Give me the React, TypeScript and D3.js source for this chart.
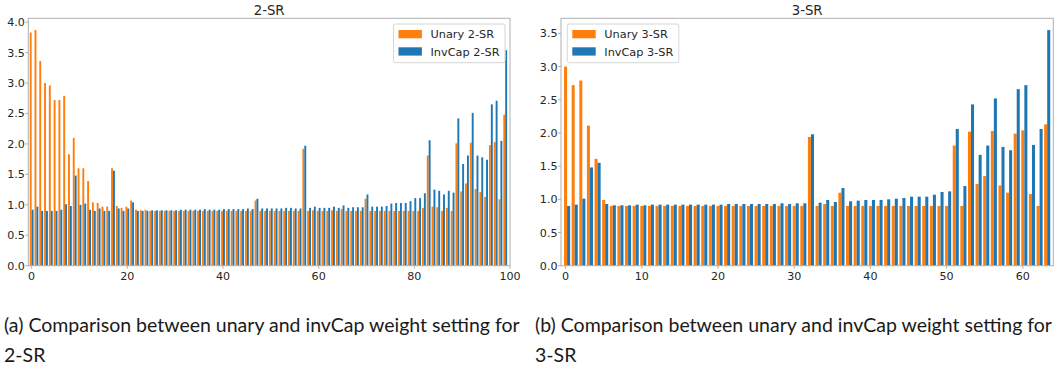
import React from "react";
import * as d3 from "d3";

// bar heights, one value per link index
const unary2 = [
  3.83, 3.87, 3.36, 3.0, 2.96, 2.72, 2.72, 2.79, 1.83, 2.1,
  1.6, 1.6, 1.39, 1.04, 1.03, 0.97, 0.97, 1.6, 0.98, 0.95,
  0.97, 1.07, 0.92, 0.91, 0.92, 0.9, 0.9, 0.9, 0.9, 0.9,
  0.9, 0.9, 0.9, 0.9, 0.9, 0.9, 0.9, 0.9, 0.9, 0.9,
  0.9, 0.9, 0.9, 0.9, 0.9, 0.9, 0.9, 1.07, 0.9, 0.9,
  0.9, 0.9, 0.9, 0.9, 0.9, 0.9, 0.9, 1.92, 0.9, 0.91,
  0.9, 0.9, 0.9, 0.91, 0.9, 0.93, 0.9, 0.9, 0.9, 0.9,
  1.1, 0.9, 0.9, 0.9, 0.9, 0.9, 0.9, 0.9, 0.9, 0.9,
  0.9, 0.9, 0.95, 1.81, 0.97, 0.96, 0.9, 0.95, 0.9, 2.01,
  1.22, 1.35, 2.02, 1.26, 1.21, 1.13, 1.98, 2.03, 1.09, 2.48,
];
const invcap2 = [
  0.92, 0.97, 0.9, 0.9, 0.9, 0.9, 0.92, 1.01, 0.98, 1.48,
  1.0, 1.02, 0.92, 0.9, 0.94, 0.9, 0.9, 1.56, 0.94, 0.9,
  0.94, 1.04, 0.9, 0.9, 0.9, 0.91, 0.91, 0.91, 0.91, 0.91,
  0.91, 0.92, 0.92, 0.92, 0.92, 0.92, 0.93, 0.92, 0.92, 0.92,
  0.93, 0.93, 0.93, 0.93, 0.93, 0.94, 0.93, 1.1, 0.94, 0.94,
  0.94, 0.94, 0.94, 0.95, 0.95, 0.94, 0.94, 1.97, 0.95, 0.97,
  0.95, 0.95, 0.95, 0.97, 0.95, 0.99, 0.95, 0.96, 0.96, 0.96,
  1.17, 0.97, 0.97, 0.97, 0.98, 1.02, 1.03, 1.03, 1.03, 1.06,
  1.11, 1.11, 1.19, 2.06, 1.25, 1.23, 1.17, 1.23, 1.2, 2.42,
  1.67, 1.81, 2.51, 1.81, 1.78, 1.74, 2.65, 2.71, 2.05, 3.54,
];
const unary3 = [
  3.0, 2.72, 2.79, 2.11, 1.61, 0.99, 0.9, 0.9, 0.9, 0.9,
  0.9, 0.9, 0.9, 0.9, 0.9, 0.9, 0.9, 0.9, 0.9, 0.9,
  0.9, 0.9, 0.9, 0.9, 0.9, 0.9, 0.9, 0.9, 0.9, 0.9,
  0.9, 0.9, 1.94, 0.9, 0.93, 0.9, 1.1, 0.9, 0.9, 0.9,
  0.9, 0.9, 0.9, 0.9, 0.9, 0.9, 0.9, 0.9, 0.9, 0.9,
  0.9, 1.81, 0.9, 2.02, 1.23, 1.35, 2.03, 1.21, 1.1, 1.99,
  2.04, 1.08, 0.9, 2.13,
];
const invcap3 = [
  0.9, 0.92, 1.01, 1.48, 1.55, 0.93, 0.91, 0.91, 0.91, 0.92,
  0.91, 0.92, 0.92, 0.92, 0.92, 0.92, 0.92, 0.92, 0.92, 0.92,
  0.92, 0.93, 0.93, 0.93, 0.93, 0.93, 0.93, 0.93, 0.94, 0.93,
  0.94, 0.94, 1.98, 0.95, 0.99, 0.96, 1.17, 0.97, 0.98, 0.99,
  0.99, 0.99, 1.0, 1.01, 1.02, 1.04, 1.04, 1.04, 1.07, 1.11,
  1.12, 2.06, 1.2, 2.43, 1.67, 1.81, 2.52, 1.79, 1.74, 2.66,
  2.72, 1.82, 2.06, 3.55,
];

const xTicks2 = [0, 20, 40, 60, 80, 100];
const xTicks3 = [0, 10, 20, 30, 40, 50, 60];
const yTicks2 = [0, 0.5, 1, 1.5, 2, 2.5, 3, 3.5, 4];
const yTicks3 = [0, 0.5, 1, 1.5, 2, 2.5, 3, 3.5];

const ORANGE = "#ff7f0e";
const BLUE = "#1f77b4";
const FONT = "DejaVu Sans, sans-serif";

type PanelProps = {
  title: string;
  unary: number[];
  invcap: number[];
  labels: [string, string];
  left: number;
  right: number;
  xDomain: [number, number];
  xTicks: number[];
  yTicks: number[];
  orangeOff: number; // where the orange bar starts, relative to the index
  legendLeft: boolean;
};

function Panel(p: PanelProps) {
  const top = 18.3;
  const bottom = 265.7;
  const bw = 0.4;
  const x = d3.scaleLinear().domain(p.xDomain).range([p.left, p.right]);
  const ymax = Math.max(d3.max(p.unary)!, d3.max(p.invcap)!) * 1.05;
  const y = d3.scaleLinear().domain([0, ymax]).range([bottom, top]);
  const bwPx = x(bw) - x(0);

  const lgW = 111.5;
  const lgX = p.legendLeft ? p.left + 6.3 : p.right - 5 - lgW;
  const lgY = 24;

  return (
    <g>
      <g>
        {p.unary.map((v, i) => (
          <rect key={"u" + i} x={x(i + p.orangeOff)} y={y(v)} width={bwPx} height={bottom - y(v)} fill={ORANGE} />
        ))}
        {p.invcap.map((v, i) => (
          <rect key={"c" + i} x={x(i + p.orangeOff + bw)} y={y(v)} width={bwPx} height={bottom - y(v)} fill={BLUE} />
        ))}
      </g>
      <rect x={p.left} y={top} width={p.right - p.left} height={bottom - top} fill="none" stroke="#b0b0b0" strokeWidth={1} />
      {p.xTicks.map((t) => (
        <g key={"xt" + t} transform={`translate(${x(t)},${bottom})`}>
          <line y2={3} stroke="#b0b0b0" />
          <text y={14} textAnchor="middle" fontSize={11.1} fontFamily={FONT} fill="#262626">{t}</text>
        </g>
      ))}
      {p.yTicks.map((t) => (
        <g key={"yt" + t} transform={`translate(${p.left},${y(t)})`}>
          <line x2={-3} stroke="#b0b0b0" />
          <text x={-3.5} dy="0.36em" textAnchor="end" fontSize={11.1} fontFamily={FONT} fill="#262626">{t.toFixed(1)}</text>
        </g>
      ))}
      <text x={(p.left + p.right) / 2} y={15} textAnchor="middle" fontSize={13.3} fontFamily={FONT} fill="#262626">{p.title}</text>
      <g transform={`translate(${lgX},${lgY})`}>
        <rect width={lgW} height={38.7} rx={2} fill="#fff" fillOpacity={0.8} stroke="#d6d6d6" />
        {[ORANGE, BLUE].map((c, k) => (
          <g key={c} transform={`translate(5,${6 + k * 17.3})`}>
            <rect width={23.4} height={8.3} fill={c} />
            <text x={32} y={8.3} fontSize={11.3} fontFamily={FONT} fill="#262626">{p.labels[k]}</text>
          </g>
        ))}
      </g>
    </g>
  );
}

export default function App() {
  const capFont = "Lato, sans-serif";
  return (
    <svg width={1059} height={370} style={{ position: "absolute", left: 0, top: 0, background: "#fff" }}>
      <Panel
        title="2-SR"
        unary={unary2}
        invcap={invcap2}
        labels={["Unary 2-SR", "InvCap 2-SR"]}
        left={28.3}
        right={510}
        xDomain={[-0.7, 100]}
        xTicks={xTicks2}
        yTicks={yTicks2}
        orangeOff={-0.4}
        legendLeft={false}
      />
      <Panel
        title="3-SR"
        unary={unary3}
        invcap={invcap3}
        labels={["Unary 3-SR", "InvCap 3-SR"]}
        left={561}
        right={1053.3}
        xDomain={[-0.6, 64]}
        xTicks={xTicks3}
        yTicks={yTicks3}
        orangeOff={-0.2}
        legendLeft={true}
      />
      <g fontFamily={capFont} fontSize={19.5} fill="#1a1a1a">
        <text x={4} y={332}>(a) Comparison between unary and invCap weight setting for</text>
        <text x={4} y={361.5}>2-SR</text>
        <text x={535} y={332}>(b) Comparison between unary and invCap weight setting for</text>
        <text x={535} y={361.5}>3-SR</text>
      </g>
    </svg>
  );
}
